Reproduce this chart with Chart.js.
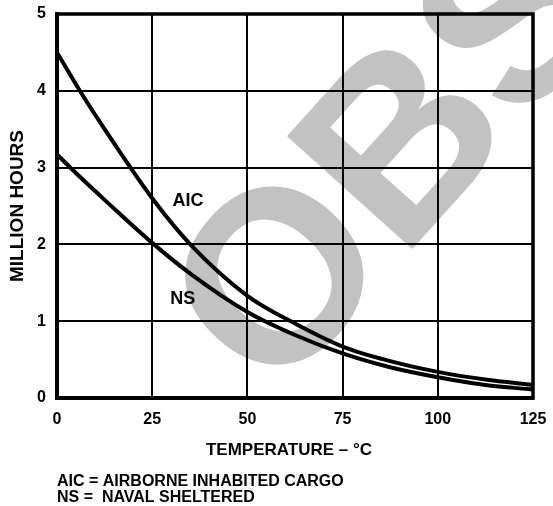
<!DOCTYPE html>
<html>
<head>
<meta charset="utf-8">
<script src="https://cdn.jsdelivr.net/npm/chart.js@4/dist/chart.umd.min.js"></script>
<style>
  html, body { margin: 0; padding: 0; background: #fff; }
  #wrap { width: 553px; height: 506px; position: relative; }
</style>
</head>
<body>
<div id="wrap"><canvas id="chart"></canvas></div>
<script>
const temps = [0, 6, 12.5, 25, 35, 50, 62.5, 75, 87.5, 100, 112.5, 125]
const aicHours = [4.5, 4.0, 3.5, 2.6, 2.0, 1.33, 0.97, 0.67, 0.48, 0.34, 0.24, 0.17]
const nsHours = [3.17, 2.88, 2.58, 2.02, 1.62, 1.12, 0.82, 0.58, 0.40, 0.27, 0.17, 0.11]
const xTicks = [0, 25, 50, 75, 100, 125]
const yTicks = [0, 1, 2, 3, 4, 5]

const FONT = '"Liberation Sans", Arial, Helvetica, sans-serif'

const toPoints = values => temps.map((t, i) => ({ x: t, y: values[i] }))

const curveLabels = [
  { text: 'AIC', x: 34.4, y: 2.56 },
  { text: 'NS', x: 33, y: 1.29 }
]

const noOverflow = scale => {
  scale.paddingTop = 0
  scale.paddingBottom = 0
  scale.paddingLeft = 0
  scale.paddingRight = 0
}

const decorations = {
  id: 'decorations',
  beforeDraw(chart) {
    const { ctx } = chart
    ctx.save()
    ctx.fillStyle = '#fff'
    ctx.fillRect(0, 0, chart.width, chart.height)
    // grey watermark behind the grid
    const fs = 245
    ctx.translate(272, 273)
    ctx.rotate(-48 * Math.PI / 180)
    ctx.font = `bold ${fs}px ${FONT}`
    ctx.fillStyle = '#c2c2c2'
    ctx.textAlign = 'left'
    ctx.textBaseline = 'alphabetic'
    ctx.fillText('OBSOLETE', -0.389 * fs, 0.36 * fs)
    ctx.restore()
  },
  afterDraw(chart) {
    const { ctx, chartArea: a, scales } = chart
    ctx.save()
    ctx.strokeStyle = '#000'
    ctx.lineWidth = 3.5
    ctx.strokeRect(a.left, a.top, a.right - a.left, a.bottom - a.top)

    ctx.fillStyle = '#000'
    ctx.textAlign = 'center'
    ctx.textBaseline = 'middle'
    ctx.font = `bold 18px ${FONT}`
    curveLabels.forEach(l => {
      ctx.fillText(l.text, scales.x.getPixelForValue(l.x), scales.y.getPixelForValue(l.y))
    })

    ctx.textBaseline = 'alphabetic'
    ctx.font = `bold 17px ${FONT}`
    ctx.fillText('TEMPERATURE – °C', 289, 455)

    ctx.save()
    ctx.translate(23, 206)
    ctx.rotate(-Math.PI / 2)
    ctx.font = `bold 19px ${FONT}`
    ctx.fillText('MILLION HOURS', 0, 0)
    ctx.restore()

    ctx.textAlign = 'left'
    ctx.font = `bold 16px ${FONT}`
    ctx.fillText('AIC = AIRBORNE INHABITED CARGO', 57, 486)
    ctx.fillText('NS =  NAVAL SHELTERED', 57, 502)
    ctx.restore()
  }
}

const ctx = document.getElementById('chart').getContext('2d')

new Chart(ctx, {
  type: 'line',
  data: {
    datasets: [
      {
        label: 'AIC',
        data: toPoints(aicHours),
        borderColor: '#000',
        borderWidth: 4,
        pointRadius: 0,
        fill: false,
        cubicInterpolationMode: 'monotone'
      },
      {
        label: 'NS',
        data: toPoints(nsHours),
        borderColor: '#000',
        borderWidth: 4,
        pointRadius: 0,
        fill: false,
        cubicInterpolationMode: 'monotone'
      }
    ]
  },
  options: {
    responsive: true,
    maintainAspectRatio: false,
    animation: false,
    layout: {
      padding: { top: 14, right: 20, left: 0, bottom: 0 }
    },
    scales: {
      x: {
        type: 'linear',
        min: 0,
        max: 125,
        afterBuildTicks: scale => { scale.ticks = xTicks.map(v => ({ value: v })) },
        afterFit: scale => { scale.height = 108; noOverflow(scale) },
        ticks: {
          color: '#000',
          padding: 12,
          maxRotation: 0,
          font: { family: FONT, size: 16, weight: 'bold' }
        },
        grid: { color: '#000', lineWidth: 2, drawTicks: false },
        border: { display: true, color: '#000', width: 4 }
      },
      y: {
        min: 0,
        max: 5,
        afterBuildTicks: scale => { scale.ticks = yTicks.map(v => ({ value: v })) },
        afterFit: scale => { scale.width = 57; noOverflow(scale) },
        ticks: {
          color: '#000',
          padding: 11,
          font: { family: FONT, size: 16, weight: 'bold' }
        },
        grid: { color: '#000', lineWidth: 2, drawTicks: false },
        border: { display: true, color: '#000', width: 4 }
      }
    },
    plugins: {
      legend: { display: false },
      tooltip: { enabled: false }
    }
  },
  plugins: [decorations]
})
</script>
</body>
</html>
